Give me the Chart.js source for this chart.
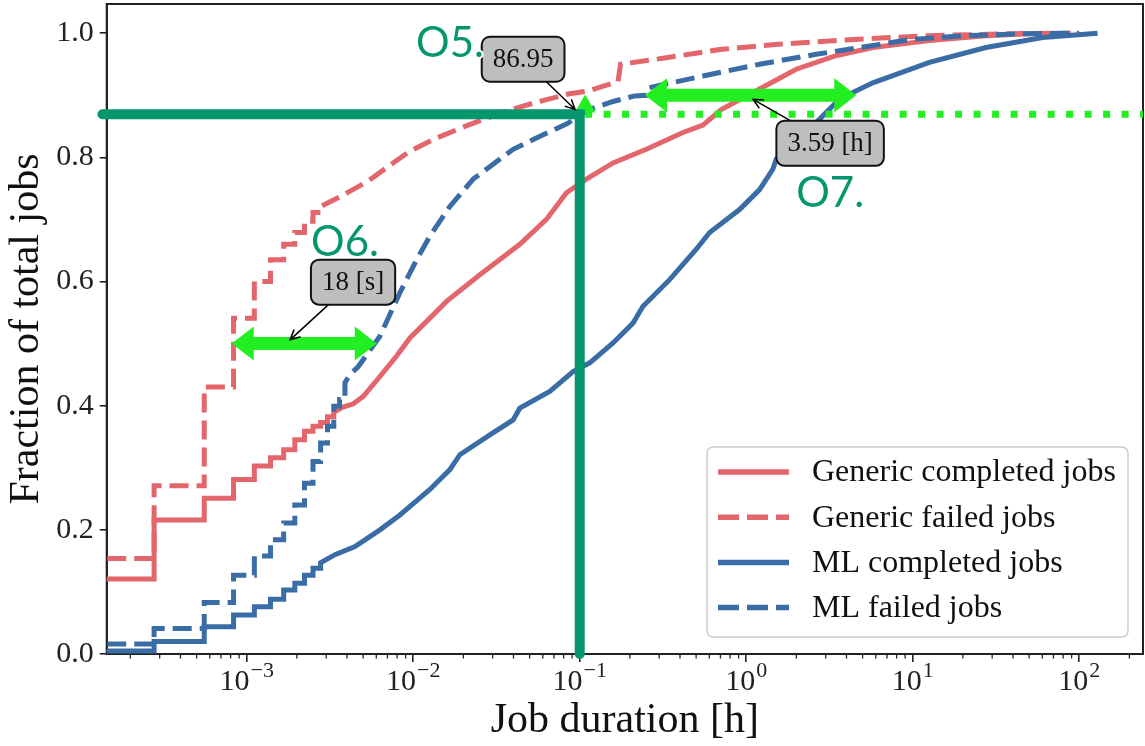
<!DOCTYPE html>
<html>
<head>
<meta charset="utf-8">
<title>Job duration CDF</title>
<script src="https://cdn.jsdelivr.net/npm/chart.js@4.4.1/dist/chart.umd.min.js"></script>
<style>
  html, body { margin: 0; padding: 0; background: #fff; }
  #wrap { width: 1145px; height: 746px; }
</style>
</head>
<body>
<div id="wrap"><canvas id="chart-cdf" width="1145" height="746"></canvas></div>
<script>
'use strict';

/* ── theme ── */
const C = {
  red:  '#e3666c',
  blue: '#3a6ca6',
  teal: '#05966e',
  lime: '#22ee22',
  ink:  '#222222',
  box:  '#bebebe',
};
const SERIF = '"Liberation Serif", "Times New Roman", serif';

/* ── axes ── */
const xMin = 1.442e-4;
const xMax = 241.5;
const xMajor = [1e-3, 1e-2, 1e-1, 1e0, 1e1, 1e2];
const yTicks = [0, 0.2, 0.4, 0.6, 0.8, 1.0];

/* ── ECDF step part: jumps at whole seconds ── */
const stepSeconds = [1, 2, 3, 4, 5, 6, 7, 8, 9, 10, 11, 12, 13, 14];

/* Generic completed */
const genCompStart = 0.121;
const genCompSteps = [0.216, 0.251, 0.281, 0.303, 0.316, 0.329, 0.345, 0.359, 0.367, 0.373, 0.382, 0.389];
const genCompLogH  = [-2.43, -2.36, -2.30, -2.20, -2.10, -2.02, -1.90, -1.80, -1.60, -1.36, -1.20, -1.08,
                      -0.96, -0.80, -0.60, -0.38, -0.26, -0.15, 0.08, 0.30, 0.53, 0.76, 1.10, 1.44, 1.70, 1.95];
const genCompFrac  = [0.397, 0.403, 0.415, 0.447, 0.480, 0.509, 0.541, 0.568, 0.611, 0.660, 0.700, 0.743,
                      0.765, 0.791, 0.813, 0.840, 0.852, 0.877, 0.910, 0.942, 0.963, 0.977, 0.988, 0.996, 0.999, 1.0];

/* Generic failed */
const genFailStart = 0.154;
const genFailSteps = [0.271, 0.430, 0.541, 0.600, 0.635, 0.660, 0.679, 0.697, 0.711, 0.721];
const genFailLogH  = [-2.43, -2.27, -2.10, -2.02, -1.87, -1.67, -1.47, -1.27, -1.07, -0.95, -0.77, -0.755,
                      -0.49, -0.15, 0.19, 0.65, 1.10, 1.56, 1.90];
const genFailFrac  = [0.738, 0.762, 0.795, 0.810, 0.830, 0.852, 0.872, 0.888, 0.902, 0.907, 0.922, 0.950,
                      0.960, 0.974, 0.982, 0.990, 0.996, 0.999, 1.0];

/* ML completed */
const mlCompStart = 0.005;
const mlCompSteps = [0.020, 0.044, 0.063, 0.076, 0.088, 0.103, 0.114, 0.127, 0.138, 0.147];
const mlCompLogH  = [-2.47, -2.35, -2.20, -2.08, -1.90, -1.78, -1.72, -1.54, -1.40, -1.36, -1.18, -1.04,
                     -0.94, -0.80, -0.68, -0.62, -0.46, -0.30, -0.22, -0.04, 0.08, 0.16, 0.18, 0.30,
                     0.42, 0.56, 0.76, 1.10, 1.44, 1.78, 2.11];
const mlCompFrac  = [0.160, 0.173, 0.200, 0.224, 0.265, 0.297, 0.321, 0.353, 0.377, 0.396, 0.423, 0.455,
                     0.469, 0.501, 0.533, 0.560, 0.603, 0.652, 0.679, 0.716, 0.748, 0.781, 0.797, 0.828,
                     0.856, 0.894, 0.920, 0.953, 0.977, 0.993, 1.0];

/* ML failed */
const mlFailStart = 0.016;
const mlFailSteps = [0.041, 0.083, 0.127, 0.158, 0.184, 0.211, 0.240, 0.275, 0.310, 0.340, 0.367, 0.399, 0.410, 0.437];
const mlFailLogH  = [-2.38, -2.33, -2.20, -2.08, -1.98, -1.90, -1.78, -1.64, -1.40, -1.27, -1.07, -1.00,
                     -0.91, -0.80, -0.67, -0.60, -0.587, -0.26, 0.08, 0.42, 0.76, 0.99, 1.33, 1.67, 2.0];
const mlFailFrac  = [0.450, 0.463, 0.512, 0.582, 0.635, 0.673, 0.721, 0.765, 0.813, 0.830, 0.855, 0.8695,
                     0.880, 0.890, 0.899, 0.900, 0.912, 0.931, 0.950, 0.966, 0.980, 0.990, 0.996, 0.999, 1.0];

/* ── highlight marks (data units) ── */
const cutX = [1.36e-4, 0.1, 0.1];          // teal L-shaped guide
const cutY = [0.8695, 0.8695, 0.0];
const levelX = [0.1077, 241.5];            // dotted level line
const levelY = [0.8695, 0.8695];
const markX = [0.1077];
const markY = [0.882];

const gapX1 = [8.13e-4, 0.2466];           // lime double arrows
const gapX2 = [6.04e-3, 4.58];
const gapY  = [0.5, 0.9];

const noteText  = ['86.95', '18 [s]', '3.59 [h]'];
const noteX     = [0.0457, 4.35e-3, 3.19];
const noteY     = [0.958, 0.599, 0.8226];
const noteTipX  = [0.0938, 1.82e-3, 1.099];
const noteTipY  = [0.877, 0.506, 0.8935];

const obsText = ['O5.', 'O6.', 'O7.'];
const obsX    = [0.01663, 3.89e-3, 3.19];
const obsY    = [0.984, 0.663, 0.742];

/* ── build ECDF points ── */
function ecdfPoints(start, steps, logH, frac) {
  const pts = [{ x: 1e-4, y: start }];
  let prev = start;
  steps.forEach((f, i) => {
    const h = stepSeconds[i] / 3600;
    pts.push({ x: h, y: prev }, { x: h, y: f });
    prev = f;
  });
  logH.forEach((e, i) => pts.push({ x: Math.pow(10, e), y: frac[i] }));
  return pts;
}
const zip = (xs, ys) => xs.map((x, i) => ({ x, y: ys[i] }));

const DASH = [19, 8];

const curves = [
  { label: 'Generic completed jobs', data: ecdfPoints(genCompStart, genCompSteps, genCompLogH, genCompFrac),
    borderColor: C.red, borderDash: [], order: 4 },
  { label: 'Generic failed jobs', data: ecdfPoints(genFailStart, genFailSteps, genFailLogH, genFailFrac),
    borderColor: C.red, borderDash: DASH, order: 3 },
  { label: 'ML completed jobs', data: ecdfPoints(mlCompStart, mlCompSteps, mlCompLogH, mlCompFrac),
    borderColor: C.blue, borderDash: [], order: 2 },
  { label: 'ML failed jobs', data: ecdfPoints(mlFailStart, mlFailSteps, mlFailLogH, mlFailFrac),
    borderColor: C.blue, borderDash: DASH, order: 1 },
].map(d => Object.assign(d, { borderWidth: 5, pointRadius: 0, fill: false, tension: 0 }));

const extras = [
  { label: '_level', data: zip(levelX, levelY), borderColor: C.lime, borderWidth: 7,
    borderDash: [7, 11.5], borderCapStyle: 'butt', pointRadius: 0, order: 0 },
  { label: '_mark', data: zip(markX, markY), showLine: false, pointStyle: 'triangle',
    pointRadius: 12, pointBackgroundColor: C.lime, pointBorderWidth: 0, order: -1 },
  { label: '_cut', data: zip(cutX, cutY), borderColor: C.teal, borderWidth: 10,
    borderCapStyle: 'round', borderJoinStyle: 'miter', pointRadius: 0, clip: false, order: -2 },
];

/* ============================================================
   OVERLAY PLUGIN: frame, minor ticks, x labels, notes, legend
   ============================================================ */
function doubleArrow(ctx, x1, x2, y) {
  const hl = 22, hw = 17, st = 6.5;
  ctx.beginPath();
  ctx.moveTo(x1, y);
  ctx.lineTo(x1 + hl, y - hw);
  ctx.lineTo(x1 + hl, y - st);
  ctx.lineTo(x2 - hl, y - st);
  ctx.lineTo(x2 - hl, y - hw);
  ctx.lineTo(x2, y);
  ctx.lineTo(x2 - hl, y + hw);
  ctx.lineTo(x2 - hl, y + st);
  ctx.lineTo(x1 + hl, y + st);
  ctx.lineTo(x1 + hl, y + hw);
  ctx.closePath();
  ctx.fill();
}

function roundRect(ctx, x, y, w, h, r) {
  ctx.beginPath();
  ctx.moveTo(x + r, y);
  ctx.arcTo(x + w, y, x + w, y + h, r);
  ctx.arcTo(x + w, y + h, x, y + h, r);
  ctx.arcTo(x, y + h, x, y, r);
  ctx.arcTo(x, y, x + w, y, r);
  ctx.closePath();
}

const overlay = {
  id: 'overlay',
  beforeDatasetsDraw(chart) {
    const { ctx, chartArea: a } = chart;
    ctx.save();
    ctx.strokeStyle = C.ink;
    ctx.lineWidth = 2;
    ctx.strokeRect(a.left, a.top, a.right - a.left, a.bottom - a.top);
    ctx.restore();
  },
  afterDatasetsDraw(chart) {
    const { ctx, chartArea: a } = chart;
    const xs = chart.scales.x, ys = chart.scales.y;
    ctx.save();

    /* minor ticks */
    ctx.strokeStyle = C.ink;
    ctx.lineWidth = 1.3;
    for (let p = -4; p <= 2; p++) {
      for (let k = 2; k <= 9; k++) {
        const v = k * Math.pow(10, p);
        if (v < xMin || v > xMax) continue;
        const px = xs.getPixelForValue(v);
        ctx.beginPath();
        ctx.moveTo(px, a.bottom);
        ctx.lineTo(px, a.bottom + 4.5);
        ctx.stroke();
      }
    }

    /* x tick labels with exponents */
    ctx.fillStyle = C.ink;
    ctx.textBaseline = 'alphabetic';
    ctx.textAlign = 'left';
    xs.ticks.forEach(t => {
      const px = xs.getPixelForValue(t.value);
      const e = Math.round(Math.log10(t.value));
      const sup = e < 0 ? '\u2212' + (-e) : String(e);
      ctx.font = '30px ' + SERIF;
      const bw = ctx.measureText('10').width;
      ctx.font = '22px ' + SERIF;
      const sw = ctx.measureText(sup).width;
      const x0 = px - (bw + sw + 1) / 2;
      ctx.font = '30px ' + SERIF;
      ctx.fillText('10', x0, a.bottom + 36);
      ctx.font = '22px ' + SERIF;
      ctx.fillText(sup, x0 + bw + 1, a.bottom + 23);
    });

    /* lime gap arrows */
    ctx.fillStyle = C.lime;
    gapY.forEach((gy, i) => {
      doubleArrow(ctx, xs.getPixelForValue(gapX1[i]), xs.getPixelForValue(gapX2[i]), ys.getPixelForValue(gy));
    });

    /* boxed notes with arrows */
    ctx.font = '27px ' + SERIF;
    ctx.textAlign = 'center';
    ctx.textBaseline = 'middle';
    noteText.forEach((txt, i) => {
      const cx = xs.getPixelForValue(noteX[i]);
      const cy = ys.getPixelForValue(noteY[i]);
      const tx = xs.getPixelForValue(noteTipX[i]);
      const ty = ys.getPixelForValue(noteTipY[i]);
      const w = ctx.measureText(txt).width + 22;
      const h = 45;
      const dx = tx - cx, dy = ty - cy;
      const t = Math.min((w / 2) / Math.abs(dx || 1e-6), (h / 2) / Math.abs(dy || 1e-6));
      const sx = cx + dx * t, sy = cy + dy * t;

      ctx.strokeStyle = '#000';
      ctx.lineWidth = 1.5;
      ctx.beginPath();
      ctx.moveTo(sx, sy);
      ctx.lineTo(tx, ty);
      const ang = Math.atan2(ty - sy, tx - sx);
      ctx.moveTo(tx - 11 * Math.cos(ang - 0.45), ty - 11 * Math.sin(ang - 0.45));
      ctx.lineTo(tx, ty);
      ctx.lineTo(tx - 11 * Math.cos(ang + 0.45), ty - 11 * Math.sin(ang + 0.45));
      ctx.stroke();

      roundRect(ctx, cx - w / 2, cy - h / 2, w, h, 8);
      ctx.fillStyle = C.box;
      ctx.fill();
      ctx.lineWidth = 2;
      ctx.strokeStyle = '#111';
      ctx.stroke();
      ctx.fillStyle = '#111';
      ctx.fillText(txt, cx, cy + 1);
    });

    /* observation labels */
    ctx.font = '42px Lato, "Open Sans", sans-serif';
    obsText.forEach((txt, i) => {
      const px = xs.getPixelForValue(obsX[i]);
      const py = ys.getPixelForValue(obsY[i]);
      ctx.lineWidth = 4;
      ctx.strokeStyle = '#fff';
      ctx.lineJoin = 'round';
      ctx.strokeText(txt, px, py);
      ctx.fillStyle = C.teal;
      ctx.fillText(txt, px, py);
    });

    /* legend */
    const lw = 421, lh = 190;
    const lx = a.right - 15 - lw, ly = a.bottom - 17 - lh;
    roundRect(ctx, lx, ly, lw, lh, 6);
    ctx.fillStyle = 'rgba(255,255,255,0.85)';
    ctx.fill();
    ctx.strokeStyle = '#cccccc';
    ctx.lineWidth = 1.5;
    ctx.stroke();
    ctx.font = '32px ' + SERIF;
    ctx.textAlign = 'left';
    ctx.textBaseline = 'middle';
    curves.forEach((d, i) => {
      const ry = ly + 25 + i * 45.2;
      ctx.strokeStyle = d.borderColor;
      ctx.lineWidth = 5.5;
      ctx.lineCap = 'butt';
      ctx.setLineDash(d.borderDash.length ? [21, 8] : []);
      ctx.beginPath();
      ctx.moveTo(lx + 11, ry);
      ctx.lineTo(lx + 82, ry);
      ctx.stroke();
      ctx.setLineDash([]);
      ctx.fillStyle = '#111';
      ctx.fillText(d.label, lx + 105, ry + 1);
    });

    ctx.restore();
  },
};

/* ============================================================
   CHART
   ============================================================ */
(function initChart() {
  const ctx = document.getElementById('chart-cdf');
  if (!ctx) return;

  new Chart(ctx, {
    type: 'line',
    data: { datasets: curves.concat(extras) },
    options: {
      responsive: false,
      animation: false,
      events: [],
      layout: { autoPadding: false, padding: { left: 0, right: 2, top: 4, bottom: 0 } },
      plugins: { legend: { display: false }, tooltip: { enabled: false } },
      scales: {
        x: {
          type: 'logarithmic',
          min: xMin,
          max: xMax,
          afterBuildTicks: s => { s.ticks = xMajor.map(v => ({ value: v })); },
          afterFit: s => { s.height = 92; s.paddingLeft = 0; s.paddingRight = 0; },
          ticks: { display: false },
          grid: { drawOnChartArea: false, drawTicks: true, tickLength: 8, color: C.ink, lineWidth: 1.6 },
          border: { display: true, color: C.ink, width: 2 },
          title: {
            display: true, text: 'Job duration [h]', color: '#111',
            font: { family: SERIF, size: 42 }, padding: { top: 0, bottom: 0 },
          },
        },
        y: {
          min: 0,
          max: 1.047,
          afterBuildTicks: s => { s.ticks = yTicks.map(v => ({ value: v })); },
          afterFit: s => { s.width = 106.7; s.paddingTop = 0; s.paddingBottom = 0; },
          ticks: {
            callback: v => Number(v).toFixed(1),
            font: { family: SERIF, size: 30 }, color: C.ink, padding: 6,
          },
          grid: { drawOnChartArea: false, drawTicks: true, tickLength: 7, color: C.ink, lineWidth: 1.6 },
          border: { display: true, color: C.ink, width: 2 },
          title: {
            display: true, text: 'Fraction of total jobs', color: '#111',
            font: { family: SERIF, size: 42 }, padding: { top: 2, bottom: 0 },
          },
        },
      },
    },
    plugins: [overlay],
  });
})();
</script>
</body>
</html>
